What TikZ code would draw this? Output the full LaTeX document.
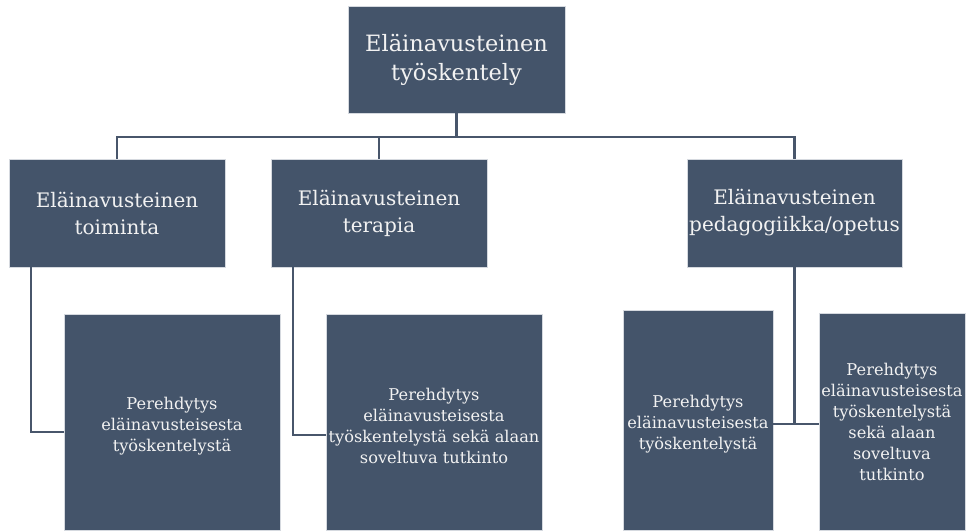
\documentclass[tikz,border=0pt]{standalone}
\usepackage{fontspec}
\setmainfont{DejaVu Serif}
\definecolor{boxfill}{HTML}{44546A}
\definecolor{boxedge}{HTML}{D5D9DF}
\definecolor{linec}{HTML}{48566B}
\definecolor{txt}{HTML}{F2F2F2}
\tikzset{
  box/.style={draw=boxedge, line width=0.8pt, fill=boxfill, text=txt, align=center, inner sep=1pt},
  lvlone/.style={box, font=\fontsize{22.5}{29}\selectfont},
  lvltwo/.style={box, font=\fontsize{20}{27}\selectfont},
  lvlthree/.style={box, font=\fontsize{16.2}{21}\selectfont},
  conn/.style={draw=linec, line width=2.2pt}
}
\begin{document}
\begin{tikzpicture}[x=1pt,y=-1pt]
\useasboundingbox (0,0) rectangle (967,532);
\node[lvlone, minimum width=217pt, minimum height=107pt] (top) at (456.5,59.5) {Eläinavusteinen\\työskentely};
\node[lvltwo, minimum width=216pt, minimum height=108pt] (l2a) at (117,213) {Eläinavusteinen\\toiminta};
\node[lvltwo, minimum width=216pt, minimum height=108pt] (l2b) at (379,213) {Eläinavusteinen\\terapia};
\node[lvltwo, minimum width=215pt, minimum height=108pt] (l2c) at (794.5,213) {Eläinavusteinen\\pedagogiikka/opetus};
\node[lvlthree, minimum width=216pt, minimum height=216pt] (l3a) at (172,422) {\\Perehdytys\\eläinavusteisesta\\työskentelystä};
\node[lvlthree, minimum width=216pt, minimum height=216pt] (l3b) at (434,422) {\\Perehdytys\\eläinavusteisesta\\työskentelystä sekä alaan\\soveltuva tutkinto};
\node[lvlthree, minimum width=150pt, minimum height=220pt] (l3c) at (698,420) {\\Perehdytys\\eläinavusteisesta\\työskentelystä};
\node[lvlthree, minimum width=146pt, minimum height=217pt, inner sep=0pt] (l3d) at (892,421.5) {Perehdytys\\eläinavusteisesta\\työskentelystä\\sekä alaan\\soveltuva\\tutkinto};
\coordinate (bus) at (456.5,137);
\coordinate (j) at (794.5,424);
\draw[conn] (top.south) -- (bus);
\draw[conn] (bus) -| (l2a.north);
\draw[conn] (bus) -| (l2b.north);
\draw[conn] (bus) -| (l2c.north);
\draw[conn] ([xshift=22pt]l2a.south west) |- ([yshift=-10pt]l3a.west);
\draw[conn] ([xshift=22pt]l2b.south west) |- ([yshift=-13pt]l3b.west);
\draw[conn] (l2c.south) -- (j);
\draw[conn] (l3c.east |- j) -- (l3d.west |- j);
\end{tikzpicture}
\end{document}
